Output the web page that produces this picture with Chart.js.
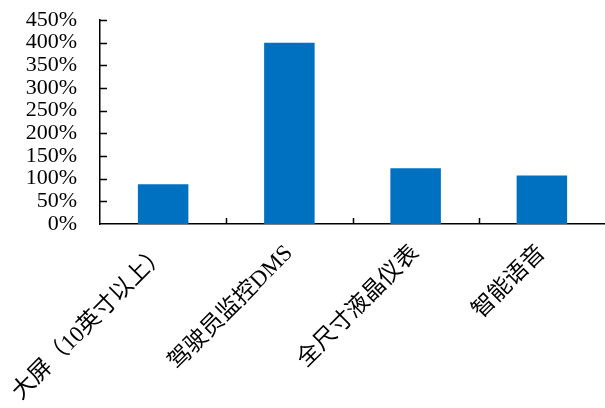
<!DOCTYPE html>
<html>
<head>
<meta charset="utf-8">
<script src="https://cdn.jsdelivr.net/npm/chart.js@4/dist/chart.umd.min.js"></script>
<style>
  html, body { margin: 0; padding: 0; background: #fff; }
  #wrap { position: relative; width: 605px; height: 408px; }
</style>
</head>
<body>
<div id="wrap"><canvas id="chart" width="605" height="408"></canvas></div>
<script>
// Categories and growth rates (%)
const categories = ['大屏（10英寸以上）', '驾驶员监控DMS', '全尺寸液晶仪表', '智能语音'];
const growth = [87.5, 400, 123, 107];
// Y axis range / step (%)
const yMin = 0, yMax = 450, yStep = 50;

const serif = "'Liberation Serif', 'Times New Roman', 'Noto Sans CJK SC', serif";

// Short tick marks pointing into the plot area
const innerTicks = {
  id: 'innerTicks',
  afterDatasetsDraw(chart) {
    const { ctx, chartArea, scales } = chart;
    const x = scales.x, y = scales.y;
    ctx.save();
    ctx.strokeStyle = '#000';
    ctx.lineWidth = 1.5;
    ctx.beginPath();
    y.ticks.forEach((t, i) => {
      if (t.value === yMin) return;
      const py = Math.round(y.getPixelForTick(i)) + 0.5;
      ctx.moveTo(chartArea.left, py);
      ctx.lineTo(chartArea.left + 7, py);
    });
    for (let i = 0; i < categories.length - 1; i++) {
      const px = Math.round((x.getPixelForValue(i) + x.getPixelForValue(i + 1)) / 2) + 0.5;
      ctx.moveTo(px, chartArea.bottom);
      ctx.lineTo(px, chartArea.bottom - 6);
    }
    ctx.stroke();
    ctx.restore();
  }
};

new Chart(document.getElementById('chart'), {
  type: 'bar',
  data: {
    labels: categories,
    datasets: [{
      data: growth,
      backgroundColor: '#0070C0',
      borderWidth: 0,
      barPercentage: 0.4,
      categoryPercentage: 1.0
    }]
  },
  options: {
    responsive: false,
    animation: false,
    devicePixelRatio: 1,
    layout: { padding: { top: 20, right: 0, left: 0, bottom: 0 } },
    plugins: { legend: { display: false }, tooltip: { enabled: false } },
    scales: {
      x: {
        grid: { display: false, drawTicks: false },
        border: { display: true, color: '#000', width: 1.5 },
        ticks: {
          color: '#000',
          font: { family: serif, size: 23 },
          minRotation: 45,
          maxRotation: 45,
          autoSkip: false,
          padding: 16
        },
        afterFit(scale) {
          scale.height = 184;
          scale.paddingLeft = 0;
          scale.paddingRight = 0;
        }
      },
      y: {
        min: yMin,
        max: yMax,
        grid: { display: false, drawTicks: false },
        border: { display: true, color: '#000', width: 1.5 },
        ticks: {
          stepSize: yStep,
          autoSkip: false,
          color: '#000',
          font: { family: serif, size: 22 },
          padding: 23,
          callback: v => v + '%'
        },
        afterFit(scale) {
          scale.width = 100;
          scale.paddingTop = 0;
          scale.paddingBottom = 0;
        }
      }
    }
  },
  plugins: [innerTicks]
});
</script>
</body>
</html>
